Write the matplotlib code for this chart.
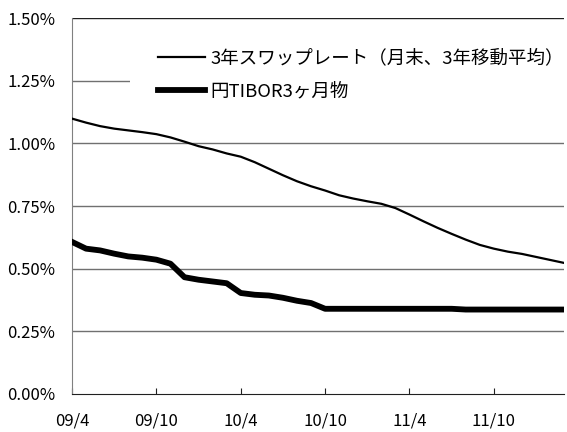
import matplotlib.pyplot as plt
from matplotlib.ticker import FuncFormatter
from matplotlib.patches import Rectangle

plt.rcParams['font.family'] = ['Noto Sans CJK JP', 'DejaVu Sans']

# monthly, 2009/4 .. 2012/3
months = ["09/4", "09/5", "09/6", "09/7", "09/8", "09/9", "09/10", "09/11", "09/12",
          "10/1", "10/2", "10/3", "10/4", "10/5", "10/6", "10/7", "10/8", "10/9",
          "10/10", "10/11", "10/12", "11/1", "11/2", "11/3", "11/4", "11/5", "11/6",
          "11/7", "11/8", "11/9", "11/10", "11/11", "11/12", "12/1", "12/2", "12/3"]

swap_3y = [1.099, 1.083, 1.069, 1.059, 1.052, 1.045, 1.037, 1.024, 1.007,
           0.989, 0.976, 0.960, 0.947, 0.925, 0.899, 0.873, 0.849, 0.829,
           0.812, 0.793, 0.780, 0.769, 0.759, 0.742, 0.716, 0.689, 0.663,
           0.639, 0.616, 0.595, 0.580, 0.568, 0.559, 0.547, 0.535, 0.523]

tibor_3m = [0.607, 0.580, 0.573, 0.560, 0.549, 0.544, 0.536, 0.520, 0.466,
            0.456, 0.449, 0.442, 0.403, 0.396, 0.393, 0.384, 0.372, 0.363,
            0.340, 0.340, 0.340, 0.340, 0.340, 0.340, 0.340, 0.340, 0.340,
            0.340, 0.337, 0.337, 0.337, 0.337, 0.337, 0.337, 0.337, 0.337]

labels = ["3年スワップレート（月末、3年移動平均）", "円TIBOR3ヶ月物"]

fig = plt.figure(figsize=(5.67, 4.32), dpi=100)
ax = fig.add_axes([0.127, 0.088, 0.868, 0.870])

x = list(range(len(months)))
ax.plot(x, swap_3y, color="black", lw=1.6, label=labels[0], zorder=3)
ax.plot(x, tibor_3m, color="black", lw=4.2, label=labels[1], zorder=3)

ax.set_xlim(0, len(months) - 1)
ax.set_ylim(0, 1.5)
ax.set_yticks([0, 0.25, 0.5, 0.75, 1.0, 1.25, 1.5])
ax.yaxis.set_major_formatter(FuncFormatter(lambda v, p: "%.2f%%" % v))
ax.set_xticks(x[::6])
ax.set_xticklabels(months[::6])

for v in [0.25, 0.5, 0.75, 1.0, 1.25]:
    ax.axhline(v, color="#707070", lw=1.0, zorder=1)
ax.axhline(1.5, color="#202020", lw=1.0, zorder=1)

ax.spines["top"].set_visible(False)
ax.spines["right"].set_visible(False)
ax.spines["left"].set_color("#808080")
ax.spines["bottom"].set_color("#202020")
ax.tick_params(axis="y", length=0, pad=12, labelsize=12)
ax.tick_params(axis="x", direction="in", length=4, pad=13, labelsize=12, color="#202020")

# white block behind the legend (hides the 1.25% gridline)
ax.add_patch(Rectangle((0.118, 0.76), 0.882, 0.17, transform=ax.transAxes,
                       facecolor="white", edgecolor="none", zorder=2))

leg = ax.legend(loc="upper left", bbox_to_anchor=(0.175, 0.917), fontsize=13.3,
                handlelength=2.55, handletextpad=0.28, labelspacing=0.82,
                frameon=False, borderpad=0, borderaxespad=0)
leg.set_zorder(5)

fig.savefig("out.png", dpi=100)
